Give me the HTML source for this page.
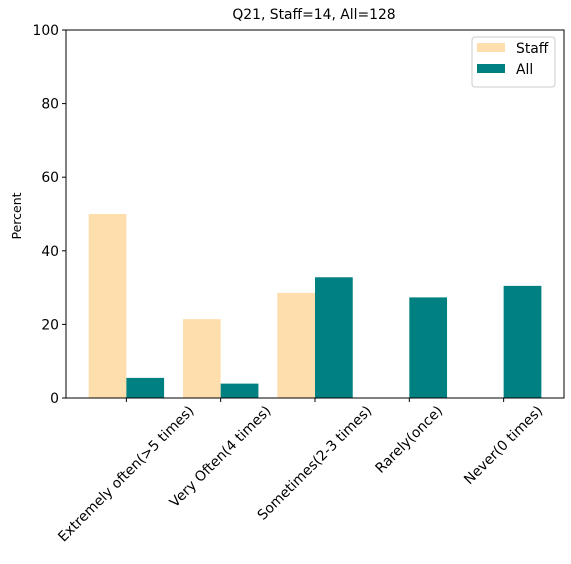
<!DOCTYPE html>
<html><head><meta charset="utf-8"><style>
body{margin:0;background:#fff;font-family:"Liberation Sans","DejaVu Sans",sans-serif;}
svg text{font-family:"DejaVu Sans","Liberation Sans",sans-serif;}
</style></head><body>
<svg id="chart" width="571" height="559" xmlns="http://www.w3.org/2000/svg">
<text x="314" y="19" font-size="13.9" text-anchor="middle">Q21, Staff=14, All=128</text>
<text transform="translate(21,216) rotate(-90)" font-size="12.5" text-anchor="middle">Percent</text>
<g id="bars"></g><g id="axes"></g>
<rect x="66" y="30" width="498" height="368" fill="none" stroke="#000" stroke-width="1"/>
<g>
<rect x="472" y="37" width="83" height="50" rx="3" fill="#fff" stroke="#ccc"/>
<rect x="477" y="43" width="28" height="9" fill="#ffdead"/>
<text x="516" y="53" font-size="13.9">Staff</text>
<rect x="477" y="64" width="28" height="9" fill="#008080"/>
<text x="516" y="74" font-size="13.9">All</text>
</g>
</svg>
<script>
const categories=["Extremely often(>5 times)","Very Often(4 times)","Sometimes(2-3 times)","Rarely(once)","Never(0 times)"];
const staffValues=[50,21.43,28.57,0,0];
const allValues=[5.47,3.91,32.81,27.34,30.47];
const yTicks=[0,20,40,60,80,100];
const NS="http://www.w3.org/2000/svg";
const x0=66,x1=564,yTop=30,yBot=398;
const xScale=v=>x0+(v+0.64)/5.28*(x1-x0);
const yScale=v=>yBot-v/100*(yBot-yTop);
const bars=document.getElementById('bars'),axes=document.getElementById('axes');
function el(t,a,p){const e=document.createElementNS(NS,t);for(const k in a)e.setAttribute(k,a[k]);p.appendChild(e);return e;}
categories.forEach((c,i)=>{
 const w=xScale(0.4)-xScale(0);
 const s=el('rect',{x:xScale(i-0.4),y:yScale(staffValues[i]),width:w,height:yBot-yScale(staffValues[i]),fill:'#ffdead'},bars);
 
 
 const a=el('rect',{x:xScale(i),y:yScale(allValues[i]),width:w,height:yBot-yScale(allValues[i]),fill:'#008080'},bars);
 
 
 const cx=xScale(i);
 const tk=el('line',{x1:cx,x2:cx,y1:yBot,y2:yBot+4,stroke:'#000'},axes);
 
 
 const t=el('text',{'font-size':13.9,'text-anchor':'middle','dominant-baseline':'central'},axes);
 t.textContent=c;
 
 
 const L=t.getComputedTextLength();
 const h=(L+16)*0.7071;
 t.setAttribute('transform',`translate(${cx},${yBot+5+h/2}) rotate(-45)`);
});
yTicks.forEach(v=>{
 const y=yScale(v);
 const tk=el('line',{x1:x0-4,x2:x0,y1:y,y2:y,stroke:'#000'},axes);
 
 
 const t=el('text',{x:x0-7,y:y+5,'font-size':13.9,'text-anchor':'end'},axes);
 t.textContent=v;
 
 
});
</script>
</body></html>
